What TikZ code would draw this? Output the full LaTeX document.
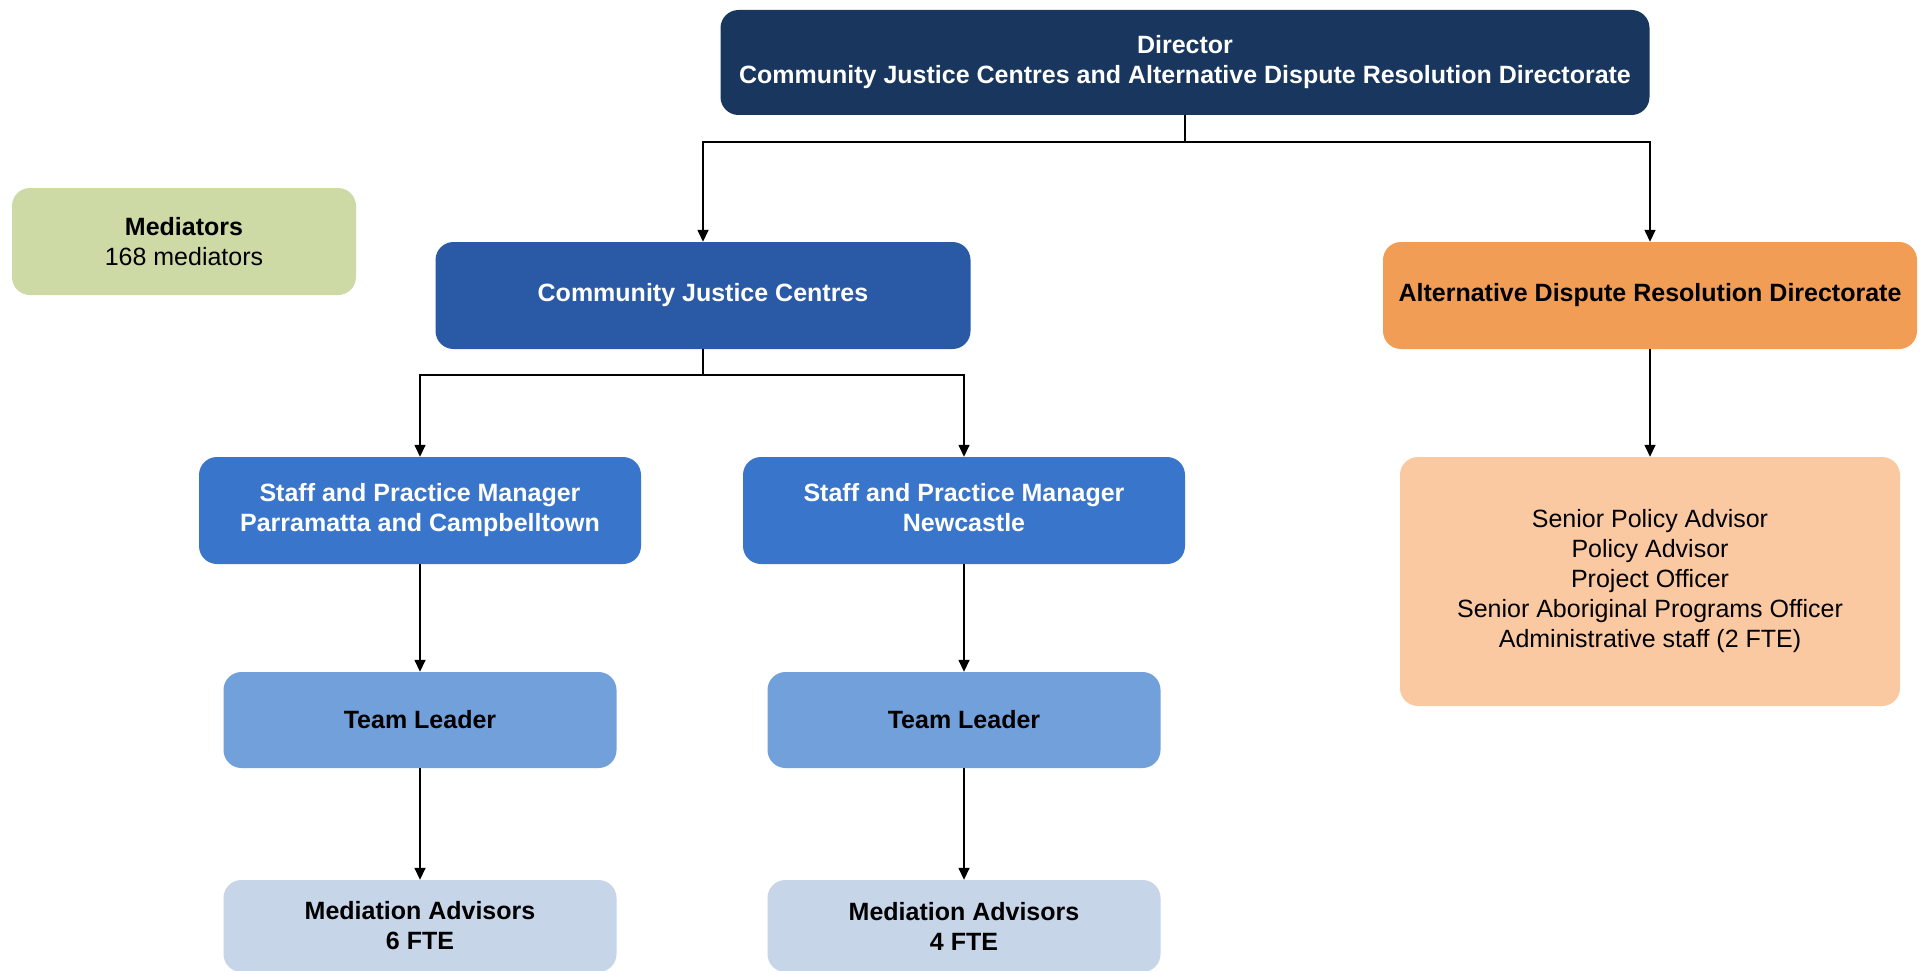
\documentclass[tikz,border=0pt]{standalone}
\usepackage{fontspec}
\setmainfont{Liberation Sans}
\usetikzlibrary{arrows.meta}
\definecolor{cNavy}{RGB}{24,54,94}
\definecolor{cCJC}{RGB}{42,90,166}
\definecolor{cSPM}{RGB}{58,117,204}
\definecolor{cTL}{RGB}{113,160,219}
\definecolor{cMA}{RGB}{198,213,232}
\definecolor{cMed}{RGB}{205,218,166}
\definecolor{cADR}{RGB}{242,157,86}
\definecolor{cStaff}{RGB}{250,201,162}
\tikzset{
  box/.style={rectangle, rounded corners=18pt, align=center, inner sep=0pt,
    font=\fontsize{25}{30}\selectfont},
  boldbox/.style={box, font=\fontsize{25}{30}\selectfont\bfseries},
  arr/.style={line width=1.5pt, -{Triangle[length=12pt,width=11pt]}},
  ln/.style={line width=1.5pt}
}
\begin{document}
\begin{tikzpicture}[x=1pt,y=-1pt]
\clip (0,0) rectangle (1926,971);
\fill[white] (0,0) rectangle (1926,971);

\node[boldbox, fill=cNavy, text=white, minimum width=929pt, minimum height=105pt] (dir) at (1185,62.5)
  {Director\\Community Justice Centres and Alternative Dispute Resolution Directorate};
\node[box, fill=cMed, minimum width=344pt, minimum height=107pt] (med) at (184,241.5)
  {\textbf{Mediators}\\168 mediators};
\node[boldbox, fill=cCJC, text=white, minimum width=535pt, minimum height=107pt] (cjc) at (703,295.5)
  {Community Justice Centres};
\node[boldbox, fill=cADR, minimum width=534pt, minimum height=107pt] (adr) at (1650,295.5)
  {Alternative Dispute Resolution Directorate};
\node[boldbox, fill=cSPM, text=white, minimum width=442pt, minimum height=107pt] (spma) at (420,510.5)
  {Staff and Practice Manager\\Parramatta and Campbelltown};
\node[boldbox, fill=cSPM, text=white, minimum width=442pt, minimum height=107pt] (spmb) at (964,510.5)
  {Staff and Practice Manager\\Newcastle\vphantom{p}};
\node[box, fill=cStaff, minimum width=500pt, minimum height=249pt] (staff) at (1650,581.5)
  {Senior Policy Advisor\\Policy Advisor\\Project Officer\\Senior Aboriginal Programs Officer\\Administrative staff (2 FTE)};
\node[boldbox, fill=cTL, minimum width=393pt, minimum height=96pt] (tla) at (420,720)
  {Team Leader};
\node[boldbox, fill=cTL, minimum width=393pt, minimum height=96pt] (tlb) at (964,720)
  {Team Leader};
\node[boldbox, fill=cMA, minimum width=393pt, minimum height=92pt] (maa) at (420,926)
  {Mediation Advisors\\6 FTE};
\node[boldbox, fill=cMA, minimum width=393pt, minimum height=92pt] (mab) at (964,926)
  {Mediation Advisors\\4 FTE};

\coordinate (j1) at (1185,142);
\coordinate (j2) at (703,375);
\draw[ln] (dir.south) -- (j1);
\draw[arr] (j1) -| (cjc.north);
\draw[arr] (j1) -| (adr.north);
\draw[ln] (cjc.south) -- (j2);
\draw[arr] (j2) -| (spma.north);
\draw[arr] (j2) -| (spmb.north);
\draw[arr] (adr.south) -- (staff.north);
\draw[arr] (spma.south) -- (tla.north);
\draw[arr] (spmb.south) -- (tlb.north);
\draw[arr] (tla.south) -- (maa.north);
\draw[arr] (tlb.south) -- (mab.north);
\end{tikzpicture}
\end{document}
